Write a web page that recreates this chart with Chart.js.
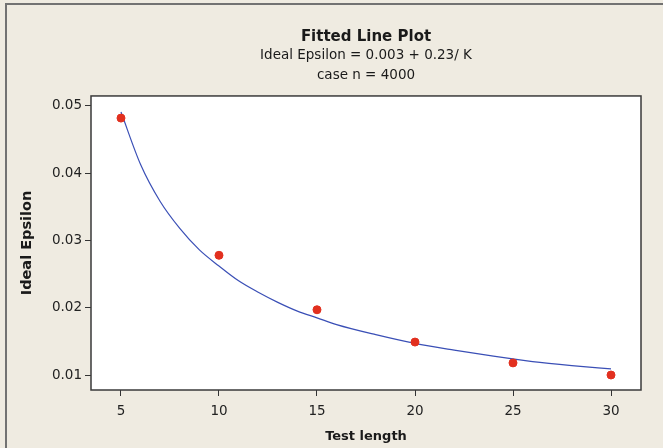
<!DOCTYPE html>
<html>
<head>
<meta charset="utf-8">
<script src="https://cdn.jsdelivr.net/npm/chart.js@4"></script>
<style>
  html, body { margin: 0; padding: 0; background: #efebe1; overflow: hidden; }
  #wrap { position: absolute; left: 0; top: 0; width: 663px; height: 448px; }
</style>
</head>
<body>
<div id="wrap"><canvas id="plot"></canvas></div>
<script>
// observed values
const testLength = [5, 10, 15, 20, 25, 30];
const idealEpsilon = [0.0482, 0.0278, 0.0197, 0.0149, 0.0118, 0.0100];

// fitted curve
const fitK = [5, 6, 7, 8, 9, 10, 11, 12, 13, 14, 15, 16, 18, 20, 22, 24, 26, 28, 30];
const fitEps = [0.0491, 0.0413, 0.0358, 0.0318, 0.0286, 0.0262, 0.0240, 0.0223, 0.0208,
                0.0195, 0.0185, 0.0175, 0.0160, 0.0147, 0.0137, 0.0128, 0.0120, 0.0114, 0.0109];

const xTicks = [5, 10, 15, 20, 25, 30];
const yTicks = [0.01, 0.02, 0.03, 0.04, 0.05];

const font = "'DejaVu Sans', sans-serif";

// window edge (left + top), white plot area and its dark frame
const plotFrame = {
  id: "plotFrame",
  beforeDraw(chart) {
    const ctx = chart.ctx;
    ctx.save();
    ctx.fillStyle = "#727272";
    ctx.fillRect(5, 3, 2, chart.height);
    ctx.fillRect(5, 3, chart.width, 2);
    ctx.restore();
  },
  beforeDatasetsDraw(chart) {
    const a = chart.chartArea, ctx = chart.ctx;
    ctx.save();
    ctx.fillStyle = "#ffffff";
    ctx.fillRect(a.left, a.top, a.right - a.left, a.bottom - a.top);
    ctx.restore();
  },
  afterDraw(chart) {
    const a = chart.chartArea, ctx = chart.ctx;
    ctx.save();
    ctx.strokeStyle = "#3a3a3a";
    ctx.lineWidth = 1.5;
    ctx.strokeRect(a.left, a.top, a.right - a.left, a.bottom - a.top);
    ctx.restore();
  }
};

new Chart(document.getElementById("plot"), {
  type: "scatter",
  data: {
    datasets: [
      {
        label: "Observed",
        data: testLength.map((k, i) => ({ x: k, y: idealEpsilon[i] })),
        backgroundColor: "#e2301f",
        borderColor: "#e2301f",
        pointRadius: 4,
        order: 0
      },
      {
        label: "Fit",
        data: fitK.map((k, i) => ({ x: k, y: fitEps[i] })),
        showLine: true,
        borderColor: "#3a4fb6",
        borderWidth: 1.2,
        pointRadius: 0,
        cubicInterpolationMode: "monotone",
        order: 1
      }
    ]
  },
  options: {
    responsive: true,
    maintainAspectRatio: false,
    animation: false,
    layout: { padding: { left: 0, right: 22, top: 0, bottom: 0 } },
    plugins: {
      legend: { display: false },
      tooltip: { enabled: false },
      title: {
        display: true,
        text: "Fitted Line Plot",
        fullSize: false,
        color: "#1a1a1a",
        font: { family: font, size: 15, weight: "bold", lineHeight: 1.2 },
        padding: { top: 28, bottom: 0 }
      },
      subtitle: {
        display: true,
        text: ["Ideal Epsilon = 0.003 + 0.23/ K", "case n = 4000"],
        fullSize: false,
        color: "#1a1a1a",
        font: { family: font, size: 13.5, lineHeight: 1.48 },
        padding: { top: 0, bottom: 10 }
      }
    },
    scales: {
      x: {
        type: "linear",
        min: 3.47,
        max: 31.53,
        afterFit(scale) { scale.height = 58; },
        afterBuildTicks(scale) { scale.ticks = xTicks.map(v => ({ value: v })); },
        border: { display: false },
        grid: { drawOnChartArea: false, drawTicks: true, tickLength: 6, color: "#333333" },
        ticks: { color: "#222222", padding: 7, font: { family: font, size: 13.5 } },
        title: {
          display: true,
          text: "Test length",
          color: "#1a1a1a",
          font: { family: font, size: 13, weight: "bold" },
          padding: { top: 0, bottom: 4 }
        }
      },
      y: {
        type: "linear",
        min: 0.00777,
        max: 0.05149,
        afterFit(scale) { scale.width = 91; },
        afterBuildTicks(scale) { scale.ticks = yTicks.map(v => ({ value: v })); },
        border: { display: false },
        grid: { drawOnChartArea: false, drawTicks: true, tickLength: 6, color: "#333333" },
        ticks: {
          color: "#222222",
          padding: 3,
          font: { family: font, size: 13.5 },
          callback: v => v.toFixed(2)
        },
        title: {
          display: true,
          text: "Ideal Epsilon",
          color: "#1a1a1a",
          font: { family: font, size: 14.5, weight: "bold" },
          padding: { top: 19, bottom: 0 }
        }
      }
    }
  },
  plugins: [plotFrame]
});
</script>
</body>
</html>
